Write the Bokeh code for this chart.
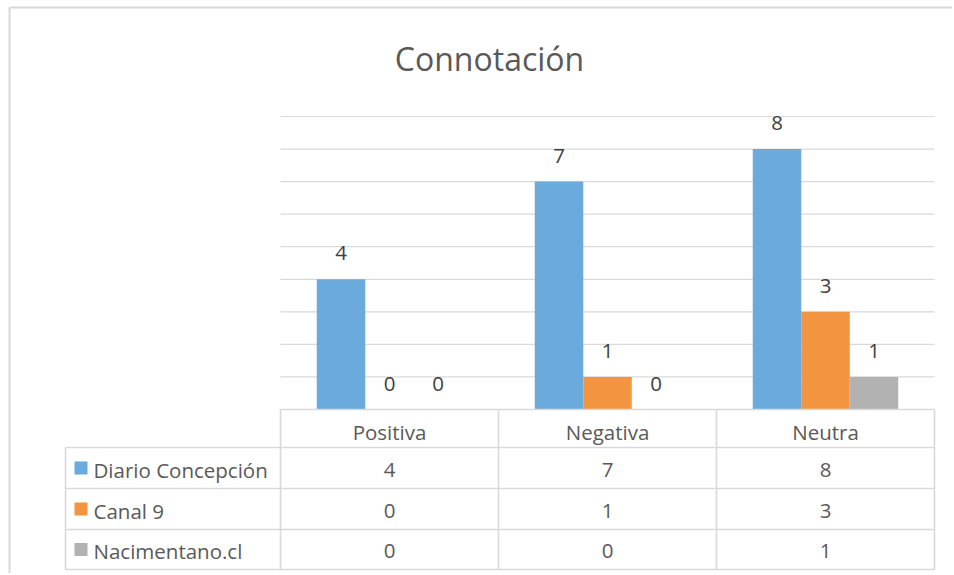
from bokeh.plotting import figure
from bokeh.models import Range1d
from bokeh.embed import file_html
from bokeh.resources import INLINE
from bokeh.core.properties import value

# ---------------- data ----------------
title_text = "Connotación"
categories = ["Positiva", "Negativa", "Neutra"]
series_names = ["Diario Concepción", "Canal 9", "Nacimentano.cl"]
diario_concepcion = [4, 7, 8]
canal_9 = [0, 1, 3]
nacimentano = [0, 0, 1]
y_ticks = [1, 2, 3, 4, 5, 6, 7, 8, 9]
series_values = [diario_concepcion, canal_9, nacimentano]
colors = ["#6AAADC", "#F29440", "#B2B2B2"]

# ---------------- layout (page pixels) ----------------
W, H = 952, 573
PAGE = 0
PLOT_L, PLOT_R = 280, 934
Y0_PX, YTOP_PX = 409, 116
YMAX = 9
FONT = value("Open Sans")
TXT = "#595959"
LINE = "#D9D9D9"
FS = "20.5px"

xscale = (PLOT_R - PLOT_L) / len(categories)
yscale = (Y0_PX - YTOP_PX) / YMAX


def X(px):
    return (px - PLOT_L) / xscale


def Y(py):
    return (Y0_PX - py) / yscale


p = figure(width=W, height=H, output_backend="svg", toolbar_location=None,
           x_range=Range1d(X(PAGE), X(PAGE + W)),
           y_range=Range1d(Y(PAGE + H), Y(PAGE)),
           x_axis_location=None, y_axis_location=None)
p.min_border = 0
p.outline_line_color = None
p.grid.visible = False
p.background_fill_color = "white"
p.border_fill_color = "white"

# chart border (left and top visible)
p.segment(x0=[X(9), X(9)], y0=[Y(7), Y(7)], x1=[X(9), X(PAGE + W)], y1=[Y(PAGE + H), Y(7)],
          line_color=LINE, line_width=2)

# title
p.text(x=[X(489)], y=[Y(58)], text=[title_text], text_font=FONT, text_font_size="32px",
       text_color=TXT, text_align="center", text_baseline="middle")

# gridlines
n = len(categories)
p.segment(x0=[0] * len(y_ticks), x1=[n] * len(y_ticks), y0=y_ticks, y1=y_ticks,
          line_color=LINE, line_width=1.2)

# bars
bw = 48.5 / xscale
for i, (vals, col) in enumerate(zip(series_values, colors)):
    xs = [k + 0.5 + (i - 1) * bw for k in range(n)]
    p.vbar(x=xs, top=vals, bottom=0, width=bw, fill_color=col, line_color=None)
    p.text(x=xs, y=vals, text=[str(v) for v in vals], y_offset=-26,
           text_font=FONT, text_font_size=FS, text_color="#404040",
           text_align="center", text_baseline="middle")

# data table lines
row_lines = [447, 488, 529, 569]
p.segment(x0=[0], x1=[n], y0=[0], y1=[0], line_color=LINE, line_width=1.6)
p.segment(x0=[X(65)] * len(row_lines), x1=[n] * len(row_lines),
          y0=[Y(r) for r in row_lines], y1=[Y(r) for r in row_lines],
          line_color=LINE, line_width=1.6)
p.segment(x0=list(range(n + 1)), x1=list(range(n + 1)),
          y0=[0] * (n + 1), y1=[Y(569)] * (n + 1), line_color=LINE, line_width=1.6)
p.segment(x0=[X(65)], x1=[X(65)], y0=[Y(447)], y1=[Y(569)], line_color=LINE, line_width=1.6)

# header text
p.text(x=[k + 0.5 for k in range(n)], y=[Y(431)] * n, text=categories,
       text_font=FONT, text_font_size=FS, text_color=TXT,
       text_align="center", text_baseline="middle")

# rows
row_text_y = [469, 510, 550]
row_key_y = [467.5, 508.5, 549]
for r, (name, vals, col) in enumerate(zip(series_names, series_values, colors)):
    p.scatter(x=[X(80.5)], y=[Y(row_key_y[r])], marker="square", size=13,
              fill_color=col, line_color=None)
    p.text(x=[X(93)], y=[Y(row_text_y[r])], text=[name], text_font=FONT,
           text_font_size=FS, text_color=TXT, text_align="left", text_baseline="middle")
    p.text(x=[k + 0.5 for k in range(n)], y=[Y(row_text_y[r])] * n,
           text=[str(v) for v in vals], text_font=FONT, text_font_size=FS,
           text_color=TXT, text_align="center", text_baseline="middle")

open("out.html", "w").write(file_html(p, INLINE))
